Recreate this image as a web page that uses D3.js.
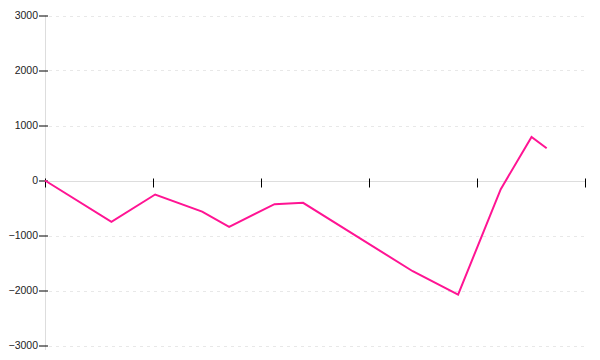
<!DOCTYPE html>
<html><head><meta charset="utf-8">
<script src="https://cdn.jsdelivr.net/npm/d3@7"></script>
<style>html,body{margin:0;padding:0;background:#fff;}</style>
</head><body>
<svg id="chart" width="600" height="360"></svg>
<script>
// Data
const xValues = [0, 12.3, 20.4, 29.1, 34.1, 42.5, 47.8, 68.1, 76.5, 84.4, 90.1, 92.9];
const yValues = [0, -752, -255, -567, -844, -431, -406, -1650, -2075, -158, 793, 587];
const xTicks = [0, 20, 40, 60, 80, 100];
const yTicks = [-3000, -2000, -1000, 0, 1000, 2000, 3000];

const svg = d3.select("#chart");
const margin = {left: 45, right: 15, top: 15.5, bottom: 14.5};
const W = 600, H = 360;

const x = d3.scaleLinear().domain([0, 100]).range([margin.left, W - margin.right]);
const y = d3.scaleLinear().domain([-3000, 3000]).range([H - margin.bottom, margin.top]);

// gridlines
svg.append("g").selectAll("line").data(yTicks.filter(d => d !== 0)).join("line")
  .attr("x1", x(0) + 4).attr("x2", x(100))
  .attr("y1", d => Math.round(y(d)) + 0.5).attr("y2", d => Math.round(y(d)) + 0.5)
  .attr("stroke", "#e8e8e8").attr("stroke-dasharray", "3,4");

// y axis
const yAxis = svg.append("g").attr("transform", `translate(${x(0)},0)`)
  .call(d3.axisLeft(y).tickValues(yTicks).tickFormat(d3.format("d")).tickSize(6).tickPadding(1));
yAxis.select(".domain").attr("stroke", "#ddd").attr("d", `M0.5,${H - 10}V${y(3000)}`);
yAxis.selectAll(".tick line").attr("x2", -6).attr("x1", 3).attr("stroke", "#000");
yAxis.selectAll("text").attr("font-family", "Liberation Sans, Arial, sans-serif")
  .attr("font-size", 10.5).attr("fill", "#222");

// x axis at zero
const xAxis = svg.append("g").attr("transform", `translate(0,${Math.round(y(0)) + 0.5})`)
  .call(d3.axisBottom(x).tickValues(xTicks).tickSize(6).tickFormat(""));
xAxis.select(".domain").attr("stroke", "#ddd").attr("d", `M${x(0)},0H${x(100)}`);
xAxis.selectAll(".tick line").attr("y1", -3).attr("y2", 6).attr("stroke", "#000");

// line
const line = d3.line().x((d, i) => x(xValues[i])).y(d => y(d));
svg.append("path").datum(yValues)
  .attr("fill", "none").attr("stroke", "#ff1493").attr("stroke-width", 2)
  .attr("stroke-linejoin", "miter").attr("d", line);
</script>
</body></html>
